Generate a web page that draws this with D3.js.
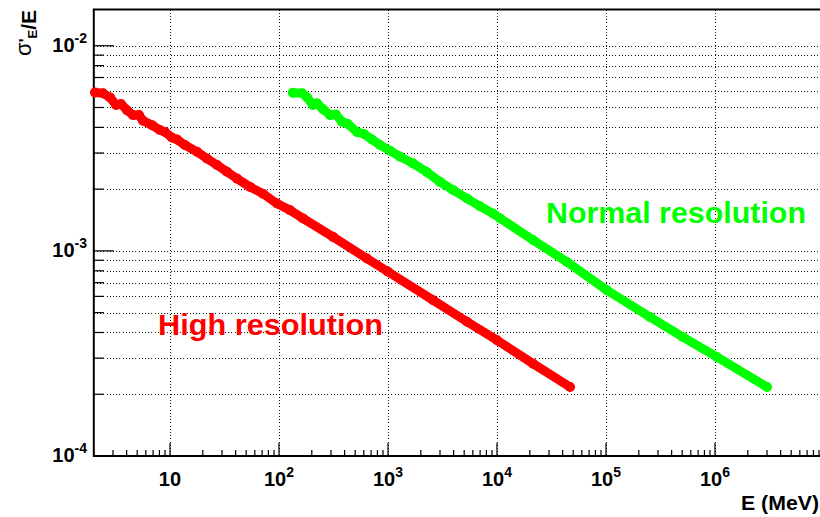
<!DOCTYPE html>
<html>
<head>
<meta charset="utf-8">
<script src="https://cdn.jsdelivr.net/npm/d3@7"></script>
<style>
  body { margin: 0; background: #fff; }
  text { font-family: "Liberation Sans", Arial, sans-serif; font-weight: bold; }
</style>
</head>
<body>
<div class="chart"></div>
<script>
// values
var redE = [2.05, 2.43, 2.82, 3.20, 3.55, 4.03, 4.58, 5.20, 5.65, 6.84, 8.09, 9.0, 10.4, 11.6, 13.7, 17.7, 21.8, 27.0, 33.3, 41.2, 54.2, 71.3, 95.9, 126, 166, 313, 641, 1000, 2590, 5310, 1.0e4, 2.14e4, 4.68e4];
var redS = [5.91e-3, 5.86e-3, 5.60e-3, 5.14e-3, 5.20e-3, 4.85e-3, 4.59e-3, 4.59e-3, 4.31e-3, 4.10e-3, 3.88e-3, 3.80e-3, 3.57e-3, 3.49e-3, 3.28e-3, 3.04e-3, 2.82e-3, 2.62e-3, 2.43e-3, 2.25e-3, 2.05e-3, 1.90e-3, 1.70e-3, 1.58e-3, 1.44e-3, 1.17e-3, 9.18e-4, 7.91e-4, 5.75e-4, 4.51e-4, 3.67e-4, 2.82e-4, 2.17e-4];
var greenE = [134, 163, 181, 205, 223, 254, 294, 333, 378, 429, 519, 602, 713, 845, 1043, 1288, 1694, 2278, 3000, 3945, 5310, 6980, 9190, 1.07e4, 2.14e4, 4.38e4, 1.02e5, 2.53e5, 5.08e5, 1.04e6, 3.0e6];
var greenS = [5.90e-3, 5.86e-3, 5.60e-3, 5.14e-3, 5.24e-3, 4.90e-3, 4.59e-3, 4.62e-3, 4.26e-3, 4.15e-3, 3.80e-3, 3.71e-3, 3.49e-3, 3.28e-3, 3.08e-3, 2.88e-3, 2.67e-3, 2.42e-3, 2.17e-3, 1.98e-3, 1.80e-3, 1.65e-3, 1.52e-3, 1.44e-3, 1.13e-3, 8.83e-4, 6.43e-4, 4.76e-4, 3.80e-4, 3.04e-4, 2.17e-4];

var xMajor = [10, 1e2, 1e3, 1e4, 1e5, 1e6];
var xLabels = [["10", ""], ["10", "2"], ["10", "3"], ["10", "4"], ["10", "5"], ["10", "6"]];
var yMajor = [1e-4, 1e-3, 1e-2];
var yLabels = [["10", "-4"], ["10", "-3"], ["10", "-2"]];

var fullWidth = 820, fullHeight = 517;
var x = d3.scaleLog().domain([2, 1e7]).range([93.8, 824]);
var y = d3.scaleLog().domain([1e-4, 0.015]).range([456, 9.6]);

var svg = d3.select(`.chart`)
    .append(`svg`)
    .attr(`width`, fullWidth)
    .attr(`height`, fullHeight);

// minor ticks 2..9 in each decade
var xMinor = [], yMinor = [];
for (var d = 0; d <= 6; d++) {
    for (var k = 2; k <= 9; k++) {
        var v = k * Math.pow(10, d);
        if (v >= 2 && v <= 1e7) xMinor.push(v);
    }
}
for (var d = -4; d <= -3; d++) {
    for (var k = 2; k <= 9; k++) yMinor.push(k * Math.pow(10, d));
}

// grid
var grid = svg.append(`g`)
    .attr(`stroke`, `#111`)
    .attr(`stroke-width`, 1)
    .attr(`shape-rendering`, `crispEdges`)
    .attr(`stroke-dasharray`, `1,2.2`);
grid.selectAll(`.gx`).data(xMajor).enter().append(`line`)
    .attr(`x1`, d => Math.round(x(d)) + 0.5).attr(`x2`, d => Math.round(x(d)) + 0.5)
    .attr(`y1`, y(0.015)).attr(`y2`, y(1e-4));
grid.selectAll(`.gy`).data(yMajor.concat(yMinor)).enter().append(`line`)
    .attr(`x1`, x(2)).attr(`x2`, fullWidth)
    .attr(`y1`, d => Math.round(y(d)) + 0.5).attr(`y2`, d => Math.round(y(d)) + 0.5);

// ticks
var ticks = svg.append(`g`).attr(`stroke`, `#000`).attr(`stroke-width`, 1.2);
ticks.selectAll(`.tx`).data(xMajor.concat(xMinor)).enter().append(`line`)
    .attr(`x1`, d => x(d)).attr(`x2`, d => x(d))
    .attr(`y1`, y(1e-4)).attr(`y2`, d => y(1e-4) - (xMajor.indexOf(d) >= 0 ? 13 : 6));
ticks.selectAll(`.ty`).data(yMajor.concat(yMinor)).enter().append(`line`)
    .attr(`y1`, d => y(d)).attr(`y2`, d => y(d))
    .attr(`x1`, x(2)).attr(`x2`, d => x(2) + (yMajor.indexOf(d) >= 0 ? 20 : 10));

// frame
svg.append(`path`)
    .attr(`d`, `M${fullWidth + 5},${y(0.015)}H${x(2)}V${y(1e-4)}H${fullWidth + 5}`)
    .attr(`fill`, `none`)
    .attr(`stroke`, `#000`)
    .attr(`stroke-width`, 2);

// tick labels
var xl = svg.selectAll(`.xl`).data(xMajor).enter().append(`text`)
    .attr(`x`, d => x(d))
    .attr(`y`, 486)
    .attr(`text-anchor`, `middle`)
    .attr(`font-size`, 20);
xl.append(`tspan`).text((d, i) => xLabels[i][0]);
xl.append(`tspan`).attr(`font-size`, 14).attr(`dy`, -9).text((d, i) => xLabels[i][1]);

var yl = svg.selectAll(`.yl`).data(yMajor).enter().append(`text`)
    .attr(`x`, 87)
    .attr(`y`, d => y(d) + 6)
    .attr(`text-anchor`, `end`)
    .attr(`font-size`, 20);
yl.append(`tspan`).text((d, i) => yLabels[i][0]);
yl.append(`tspan`).attr(`font-size`, 14).attr(`dy`, -9).text((d, i) => yLabels[i][1]);

// axis titles
svg.append(`text`)
    .attr(`x`, 819).attr(`y`, 510)
    .attr(`text-anchor`, `end`)
    .attr(`font-size`, 20)
    .attr(`textLength`, 78)
    .attr(`lengthAdjust`, `spacingAndGlyphs`)
    .text(`E (MeV)`);

var yt = svg.append(`text`)
    .attr(`transform`, `translate(36,10) rotate(-90)`)
    .attr(`text-anchor`, `end`)
    .attr(`font-size`, 21);
yt.append(`tspan`).attr(`font-weight`, `normal`).attr(`font-size`, 22).attr(`dy`, -5).text(`σ`);
yt.append(`tspan`).attr(`font-size`, 16).text(`'`);
yt.append(`tspan`).attr(`font-size`, 13).attr(`dy`, 6).text(`E`);
yt.append(`tspan`).attr(`dy`, -1).text(`/E`);

// series
var series = [
    {E: redE, S: redS, color: `#ff0000`},
    {E: greenE, S: greenS, color: `#00ff00`}
];
var line = d3.line()
    .x(p => x(p[0]))
    .y(p => y(p[1]));

series.forEach(s => {
    var pts = s.E.map((e, i) => [e, s.S[i]]);
    svg.append(`path`)
        .attr(`d`, line(pts))
        .attr(`fill`, `none`)
        .attr(`stroke`, s.color)
        .attr(`stroke-width`, 9)
        .attr(`stroke-linecap`, `round`)
        .attr(`stroke-linejoin`, `round`);
    svg.append(`g`).selectAll(`circle`).data(pts).enter().append(`circle`)
        .attr(`cx`, p => x(p[0]))
        .attr(`cy`, p => y(p[1]))
        .attr(`r`, 5)
        .attr(`fill`, s.color);
});

// labels
svg.append(`text`)
    .attr(`x`, 158).attr(`y`, 335)
    .attr(`font-size`, 29)
    .attr(`fill`, `#ff0000`)
    .attr(`textLength`, 225)
    .attr(`lengthAdjust`, `spacingAndGlyphs`)
    .text(`High resolution`);
svg.append(`text`)
    .attr(`x`, 546).attr(`y`, 223)
    .attr(`font-size`, 29)
    .attr(`fill`, `#00ff00`)
    .attr(`textLength`, 260)
    .attr(`lengthAdjust`, `spacingAndGlyphs`)
    .text(`Normal resolution`);
</script>
</body>
</html>
